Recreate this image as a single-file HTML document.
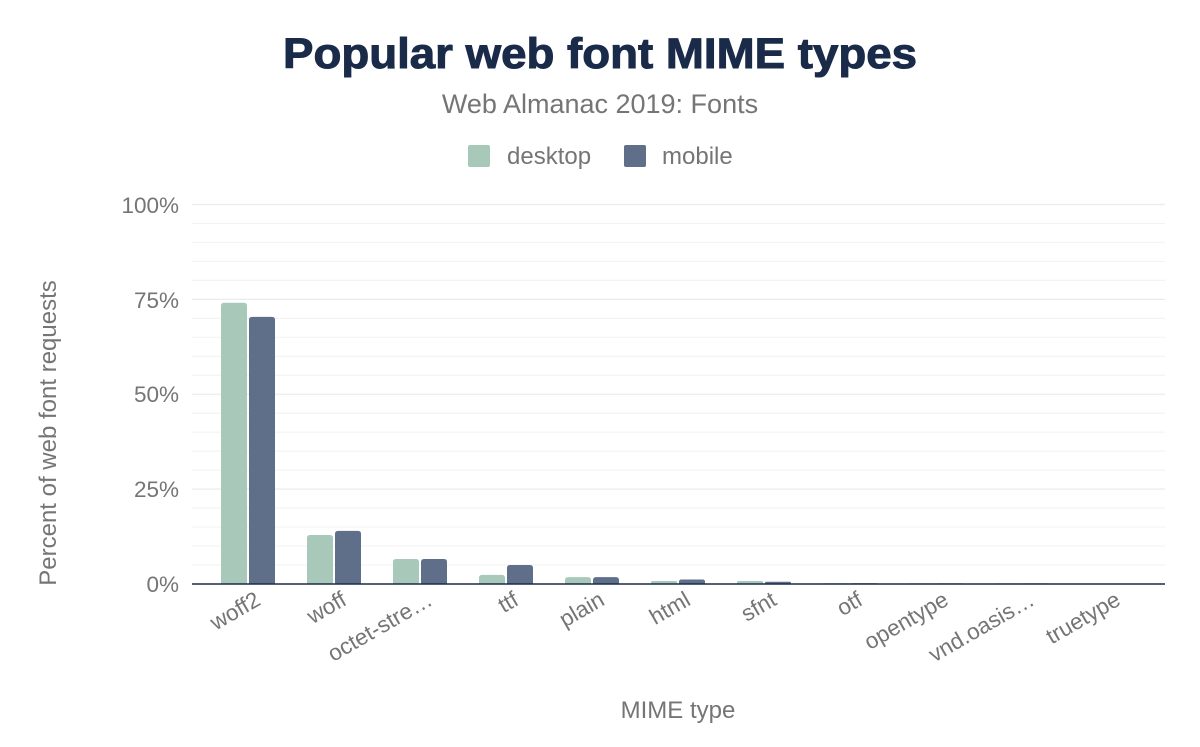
<!DOCTYPE html>
<html><head><meta charset="utf-8"><style>
html,body{margin:0;padding:0;background:#fff;}
svg text{font-family:"Liberation Sans",Arial,sans-serif;}
</style></head><body>
<svg width="1200" height="742" viewBox="0 0 1200 742" xmlns="http://www.w3.org/2000/svg">
<rect width="1200" height="742" fill="#fff"/>
<text x="600" y="68" text-anchor="middle" font-size="43" font-weight="bold" fill="#1a2b49" stroke="#1a2b49" stroke-width="1" textLength="634" lengthAdjust="spacingAndGlyphs">Popular web font MIME types</text>
<text x="600" y="113" text-anchor="middle" font-size="27" fill="#757575">Web Almanac 2019: Fonts</text>
<rect x="468" y="145" width="22" height="22" rx="2" fill="#a8c9b9"/>
<text x="507" y="164" font-size="24" fill="#757575">desktop</text>
<rect x="624" y="145" width="22" height="22" rx="2" fill="#5f6f89"/>
<text x="662" y="164" font-size="24" fill="#757575">mobile</text>
<g id="grid" stroke="#f3f3f3" stroke-width="1.2"></g>
<g font-size="22.5" fill="#757575" text-anchor="end">
<text x="179" y="213">100%</text>
<text x="179" y="308">75%</text>
<text x="179" y="402">50%</text>
<text x="179" y="497">25%</text>
<text x="179" y="592">0%</text>
</g>
<text transform="translate(56,433) rotate(-90)" text-anchor="middle" font-size="24" fill="#757575">Percent of web font requests</text>
<text x="678" y="718" text-anchor="middle" font-size="24" fill="#757575">MIME type</text>
<g id="bars"></g>
<line x1="192" y1="584" x2="1165" y2="584" stroke="#1a2b49" stroke-width="1.5"/>
<g id="xl" font-size="22.5" fill="#757575" text-anchor="end"></g>
</svg>
<script>
var ns="http://www.w3.org/2000/svg";
var g=document.getElementById("grid");
for(var p=5;p<=100;p+=5){var y=584-p*3.795;var l=document.createElementNS(ns,"line");l.setAttribute("x1",192);l.setAttribute("x2",1165);l.setAttribute("y1",y);l.setAttribute("y2",y);if(p%25==0)l.setAttribute("stroke","#ebebeb");g.appendChild(l);}
var d=[["woff2",74.1,70.4],["woff",12.9,14.0],["octet-stre…",6.6,6.6],["ttf",2.4,5.0],["plain",1.8,1.8],["html",0.8,1.2],["sfnt",0.8,0.6],["otf",0.2,0.2],["opentype",0.15,0.15],["vnd.oasis…",0.15,0.15],["truetype",0.1,0.1]];
var b=document.getElementById("bars"),xl=document.getElementById("xl");
d.forEach(function(r,i){var cx=248+86*i;
[[r[1],cx-27,"#a8c9b9"],[r[2],cx+1,"#5f6f89"]].forEach(function(s){var h=s[0]*3.795;var e=document.createElementNS(ns,"path");var x=s[1],w=26,y=584-h,rr=Math.min(3,h/2);
e.setAttribute("d","M"+x+",584V"+(y+rr)+"Q"+x+","+y+" "+(x+rr)+","+y+"H"+(x+w-rr)+"Q"+(x+w)+","+y+" "+(x+w)+","+(y+rr)+"V584Z");e.setAttribute("fill",s[2]);b.appendChild(e);});
var t=document.createElementNS(ns,"text");t.setAttribute("transform","translate("+(cx+14)+",604) rotate(-30)");t.textContent=r[0];xl.appendChild(t);});
</script>
</body></html>
